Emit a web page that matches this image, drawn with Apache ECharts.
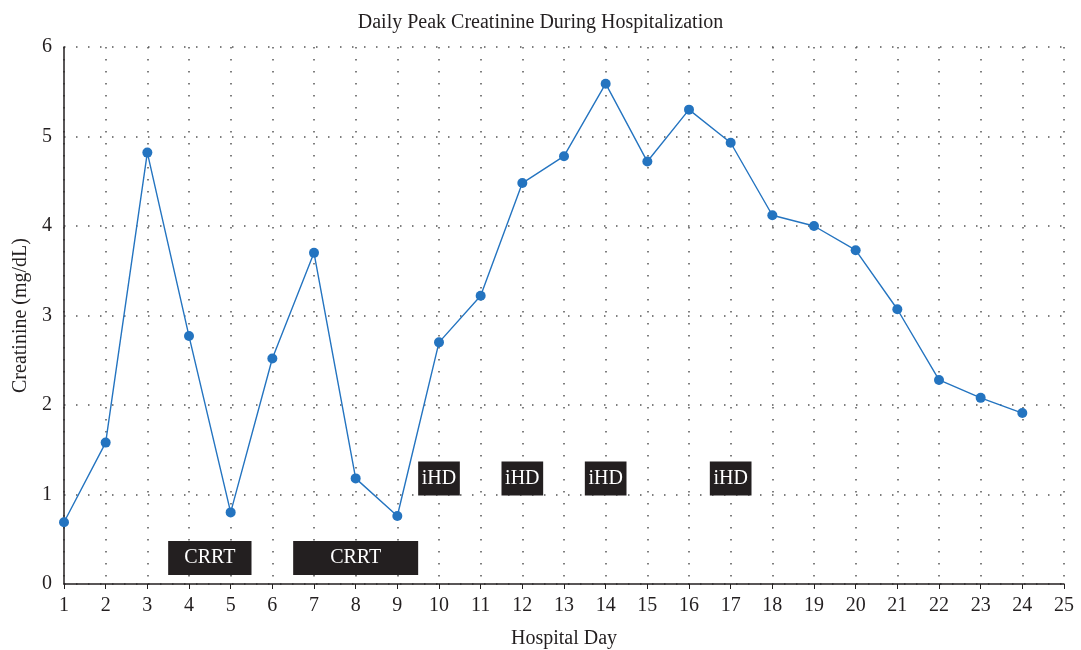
<!DOCTYPE html>
<html><head><meta charset="utf-8">
<script src="https://cdn.jsdelivr.net/npm/echarts@6/dist/echarts.min.js"></script>
<style>html,body{margin:0;padding:0;background:#fff}#c{width:1081px;height:650px}</style>
</head><body><div id="c"></div>
<script>
const days = [1,2,3,4,5,6,7,8,9,10,11,12,13,14,15,16,17,18,19,20,21,22,23,24];
const creatinine = [0.69,1.58,4.82,2.77,0.80,2.52,3.70,1.18,0.76,2.70,3.22,4.48,4.78,5.59,4.72,5.30,4.93,4.12,4.00,3.73,3.07,2.28,2.08,1.91];
const xTicks = [1,25];
const yTicks = [0,6];
const crrtStart = [3.5, 6.5];
const crrtEnd = [5.5, 9.5];
const ihdStart = [9.5, 11.5, 13.5, 16.5];
const ihdEnd = [10.5, 12.5, 14.5, 17.5];

const font = 'Liberation Serif';
const boxStyle = {color:'#231f20'};
const boxLabel = {show:true, position:'inside', color:'#fff', fontFamily:font, fontSize:20};
function areas(starts, ends, name, y0, y1){
  return starts.map((s,i)=>[{name:name, xAxis:s, yAxis:y1},{xAxis:ends[i], yAxis:y0}]);
}
const chart = echarts.init(document.getElementById('c'), null, {renderer:'canvas'});
chart.setOption({
  animation:false,
  title:{text:'Daily Peak Creatinine During Hospitalization', left:'center', top:8,
    textStyle:{fontFamily:font, fontSize:20, fontWeight:'normal', color:'#231f20'}},
  grid:{left:64, right:17, top:47, bottom:66, containLabel:false, outerBoundsMode:'none'},
  xAxis:{type:'value', min:xTicks[0], max:xTicks[1], interval:1,
    name:'Hospital Day', nameLocation:'middle', nameGap:45,
    nameTextStyle:{fontFamily:font, fontSize:20, color:'#231f20'},
    axisLine:{lineStyle:{color:'#231f20', width:1.5}},
    axisTick:{show:true, length:5, lineStyle:{color:'#231f20'}},
    axisLabel:{fontFamily:font, fontSize:20, color:'#231f20', margin:12},
    splitLine:{show:true, lineStyle:{type:[1.5,10.5], color:'#555', width:1.5}}},
  yAxis:{type:'value', min:yTicks[0], max:yTicks[1], interval:1,
    name:'Creatinine (mg/dL)', nameLocation:'middle', nameGap:33,
    nameTextStyle:{fontFamily:font, fontSize:20, color:'#231f20'},
    axisLine:{show:true, lineStyle:{color:'#231f20', width:1.5}},
    axisTick:{show:false},
    axisLabel:{fontFamily:font, fontSize:20, color:'#231f20', margin:12},
    splitLine:{show:true, lineStyle:{type:[1.5,10.5], color:'#555', width:1.5}}},
  series:[
    {type:'line', data:[], silent:true,
      markArea:{silent:true, itemStyle:boxStyle, label:boxLabel,
        data: areas(crrtStart, crrtEnd, 'CRRT', 0.10, 0.48).concat(areas(ihdStart, ihdEnd, 'iHD', 0.99, 1.37))}},
    {type:'line', data: days.map((d,i)=>[d, creatinine[i]]),
      symbol:'circle', symbolSize:10, z:5,
      lineStyle:{color:'#2474c0', width:1.4},
      itemStyle:{color:'#2474c0'}}
  ]
});
</script></body></html>
